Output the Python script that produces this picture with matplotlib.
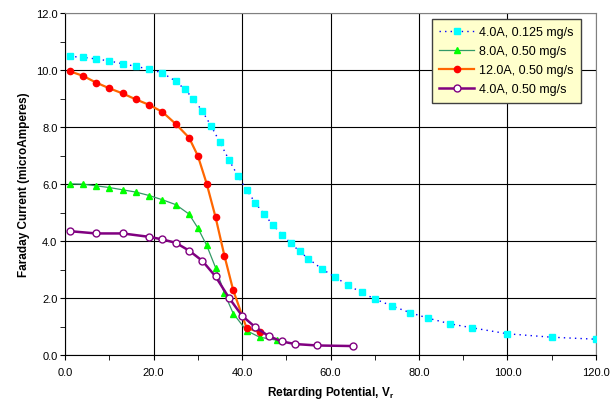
import numpy as np
import matplotlib
matplotlib.use("Agg")
import matplotlib.pyplot as plt
from matplotlib.ticker import MultipleLocator, FormatStrFormatter

plt.rcParams['font.family'] = ['Liberation Sans', 'DejaVu Sans']

# 4.0A, 0.125 mg/s
x_a = [1, 4, 7, 10, 13, 16, 19, 22, 25, 27, 29, 31, 33, 35, 37, 39, 41, 43, 45, 47, 49, 51,
       53, 55, 58, 61, 64, 67, 70, 74, 78, 82, 87, 92, 100, 110, 120]
y_a = [10.48, 10.45, 10.39, 10.32, 10.22, 10.13, 10.03, 9.90, 9.61, 9.33, 8.99, 8.56, 8.04,
       7.46, 6.86, 6.30, 5.80, 5.34, 4.94, 4.56, 4.23, 3.93, 3.64, 3.38, 3.03, 2.74, 2.45,
       2.20, 1.97, 1.72, 1.49, 1.30, 1.10, 0.96, 0.75, 0.63, 0.56]

# 8.0A, 0.50 mg/s
x_b = [1, 4, 7, 10, 13, 16, 19, 22, 25, 28, 30, 32, 34, 36, 38, 41, 44, 48]
y_b = [6.01, 6.00, 5.94, 5.88, 5.80, 5.72, 5.60, 5.45, 5.28, 4.95, 4.46, 3.85, 3.07, 2.17,
       1.46, 0.86, 0.63, 0.52]

# 12.0A, 0.50 mg/s
x_c = [1, 4, 7, 10, 13, 16, 19, 22, 25, 28, 30, 32, 34, 36, 38, 41, 44]
y_c = [9.96, 9.80, 9.56, 9.36, 9.18, 8.97, 8.78, 8.53, 8.11, 7.63, 6.99, 6.01, 4.84, 3.49,
       2.27, 0.96, 0.80]

# 4.0A, 0.50 mg/s
x_d = [1, 7, 13, 19, 22, 25, 28, 31, 34, 37, 40, 43, 46, 49, 52, 57, 65]
y_d = [4.35, 4.27, 4.27, 4.15, 4.06, 3.94, 3.67, 3.31, 2.76, 2.02, 1.38, 0.98, 0.67, 0.48,
       0.39, 0.34, 0.32]

fig = plt.figure(figsize=(6.15, 4.02), dpi=100)
ax = fig.add_axes([0.106, 0.114, 0.863, 0.851])

ax.plot(x_a, y_a, color='#0000FF', linestyle=(0, (1, 3)), linewidth=1,
        marker='s', markersize=4, markerfacecolor='#00FFFF', markeredgecolor='#00FFFF',
        label='4.0A, 0.125 mg/s', zorder=3)
ax.plot(x_b, y_b, color='#339966', linewidth=0.9,
        marker='^', markersize=4.5, markerfacecolor='#00FF00', markeredgecolor='#00FF00',
        label='8.0A, 0.50 mg/s', zorder=4)
ax.plot(x_c, y_c, color='#FF6600', linewidth=1.6,
        marker='o', markersize=4.5, markerfacecolor='#FF0000', markeredgecolor='#FF0000',
        label='12.0A, 0.50 mg/s', zorder=5)
ax.plot(x_d, y_d, color='#800080', linewidth=1.8,
        marker='o', markersize=5, markerfacecolor='white', markeredgecolor='#800080',
        markeredgewidth=1, label='4.0A, 0.50 mg/s', zorder=6)

ax.set_xlim(0, 120)
ax.set_ylim(0, 12)
ax.xaxis.set_major_locator(MultipleLocator(20))
ax.xaxis.set_minor_locator(MultipleLocator(10))
ax.yaxis.set_major_locator(MultipleLocator(2))
ax.yaxis.set_minor_locator(MultipleLocator(1))
ax.xaxis.set_major_formatter(FormatStrFormatter('%.1f'))
ax.yaxis.set_major_formatter(FormatStrFormatter('%.1f'))
ax.tick_params(which='both', direction='out', labelsize=8, color='black', length=3.6)
ax.tick_params(axis='x', pad=5)
ax.tick_params(axis='y', pad=2)

ax.grid(True, which='major', color='black', linewidth=0.8)
ax.set_axisbelow(True)
for side in ['top', 'right']:
    ax.spines[side].set_color('#808080')
for side in ['left', 'bottom']:
    ax.spines[side].set_color('black')

ax.set_xlabel('Retarding Potential, V$_\\mathregular{r}$', fontsize=8.5, fontweight='bold', labelpad=5)
ax.set_ylabel('Faraday Current (microAmperes)', fontsize=8.5, fontweight='bold', labelpad=4)

leg = ax.legend(loc='upper right', bbox_to_anchor=(0.972, 0.983), fontsize=9,
                fancybox=False, framealpha=1, borderpad=0.6, labelspacing=0.55,
                handlelength=2.8, handletextpad=0.4, borderaxespad=0)
leg.get_frame().set_facecolor('#FFFFCC')
leg.get_frame().set_edgecolor('#404040')
leg.get_frame().set_linewidth(1)

fig.savefig('out.png', dpi=100)
